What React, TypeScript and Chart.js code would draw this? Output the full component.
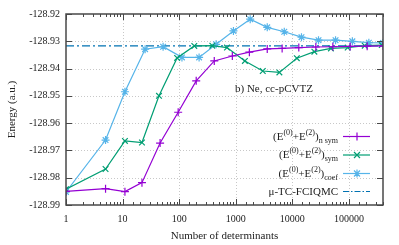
import React, { useEffect, useRef } from "react";
import { Chart, registerables } from "chart.js";

Chart.register(...registerables);

const nsymX = [1, 5, 11, 22, 46, 96, 200, 417, 870, 1740, 3600, 6600, 13000, 26000, 52000, 105000, 210000, 400000];
const nsymY = [-128.985, -128.9840, -128.9851, -128.9818, -128.9673, -128.956, -128.9445, -128.9372, -128.9354, -128.934, -128.9328, -128.9326, -128.9323, -128.9321, -128.932, -128.9319, -128.9318, -128.9317];

const symX = [1, 5, 11, 22, 44, 92, 185, 385, 700, 1450, 3000, 5900, 12000, 24500, 48000, 95000, 190000, 380000];
const symY = [-128.9842, -128.9768, -128.9665, -128.9671, -128.95, -128.9361, -128.9317, -128.9316, -128.9323, -128.9372, -128.9409, -128.9414, -128.9362, -128.9338, -128.9326, -128.9323, -128.9316, -128.9314];

const coefX = [1, 5, 11, 25, 52, 112, 225, 450, 910, 1800, 3600, 7200, 14500, 29000, 58000, 115000, 225000, 400000];
const coefY = [-128.9852, -128.9662, -128.9485, -128.9329, -128.932, -128.9359, -128.9359, -128.9311, -128.9262, -128.9219, -128.9249, -128.9265, -128.9285, -128.9296, -128.9296, -128.93, -128.9305, -128.9306];

const refX = [1, 400000];
const refY = [-128.9317, -128.9317];

const xTickLabels = ["1", "10", "100", "1000", "10000", "100000"];
const yMin = -128.99;
const yMax = -128.92;
const yStep = 0.01;

const COLORS = { nsym: "#9400d3", sym: "#009e73", coef: "#56b4e9", ref: "#0072b2" };
const FONT = '"Liberation Serif", "Times New Roman", serif';

const zip = (xs: number[], ys: number[]) => xs.map((x, i) => ({ x, y: ys[i] }));
const isPow10 = (v: number) => Math.abs(Math.log10(v) - Math.round(Math.log10(v))) < 1e-9;

function drawMarker(ctx: CanvasRenderingContext2D, kind: string, x: number, y: number, r: number) {
  ctx.beginPath();
  if (kind === "plus" || kind === "star") {
    ctx.moveTo(x - r, y); ctx.lineTo(x + r, y);
    ctx.moveTo(x, y - r); ctx.lineTo(x, y + r);
  }
  if (kind === "x" || kind === "star") {
    const d = r * 0.75;
    ctx.moveTo(x - d, y - d); ctx.lineTo(x + d, y + d);
    ctx.moveTo(x - d, y + d); ctx.lineTo(x + d, y - d);
  }
  ctx.stroke();
}

const framePlugin = {
  id: "frame",
  beforeDatasetsDraw(chart: any) {
    const { ctx, chartArea: a, scales } = chart;
    ctx.save();
    ctx.strokeStyle = "#c8c8c8";
    ctx.lineWidth = 1;
    ctx.setLineDash([1, 2]);
    xTickLabels.forEach((t) => {
      const v = Number(t);
      if (v <= 1) return;
      const px = Math.round(scales.x.getPixelForValue(v)) + 0.5;
      ctx.beginPath(); ctx.moveTo(px, a.top); ctx.lineTo(px, a.bottom); ctx.stroke();
    });
    for (let v = yMin + yStep; v < yMax - 1e-9; v += yStep) {
      const py = Math.round(scales.y.getPixelForValue(v)) + 0.5;
      ctx.beginPath(); ctx.moveTo(a.left, py); ctx.lineTo(a.right, py); ctx.stroke();
    }
    ctx.restore();
  },
  afterDraw(chart: any) {
    const { ctx, chartArea: a, scales } = chart;
    ctx.save();
    ctx.strokeStyle = "#484848";
    ctx.lineWidth = 1;
    scales.x.ticks.forEach((t: any) => {
      const v = t.value;
      const px = Math.round(scales.x.getPixelForValue(v)) + 0.5;
      const len = isPow10(v) ? 6 : 3;
      ctx.beginPath();
      ctx.moveTo(px, a.bottom); ctx.lineTo(px, a.bottom - len);
      ctx.moveTo(px, a.top); ctx.lineTo(px, a.top + len);
      ctx.stroke();
    });
    for (let v = yMin; v <= yMax + 1e-9; v += yStep) {
      const py = Math.round(scales.y.getPixelForValue(v)) + 0.5;
      ctx.beginPath();
      ctx.moveTo(a.left, py); ctx.lineTo(a.left + 6, py);
      ctx.moveTo(a.right, py); ctx.lineTo(a.right - 6, py);
      ctx.stroke();
    }
    ctx.lineWidth = 1.5;
    ctx.strokeRect(a.left, a.top, a.right - a.left, a.bottom - a.top);

    ctx.fillStyle = "#222";
    ctx.font = `11px ${FONT}`;
    ctx.textBaseline = "alphabetic";
    ctx.textAlign = "left";
    ctx.fillText("b) Ne, cc-pCVTZ", 235, 92);

    const rows = [
      { sub: "n sym", color: COLORS.nsym, marker: "plus", dash: [] as number[] },
      { sub: "sym", color: COLORS.sym, marker: "x", dash: [] as number[] },
      { sub: "coef", color: COLORS.coef, marker: "star", dash: [] as number[] },
      { sub: null as any, color: COLORS.ref, marker: "", dash: [6, 2, 1.5, 2] },
    ];
    const rowY = [136, 154.5, 173, 191];
    const textRight = 338;
    rows.forEach((r, i) => {
      const y = rowY[i];
      const base = y + 3.5;
      const segs: { t: string; size: number; dy: number }[] = r.sub
        ? [
            { t: "(E", size: 11, dy: 0 },
            { t: "(0)", size: 8, dy: -5 },
            { t: "+E", size: 11, dy: 0 },
            { t: "(2)", size: 8, dy: -5 },
            { t: ")", size: 11, dy: 0 },
            { t: r.sub, size: 8, dy: 3 },
          ]
        : [{ t: "\u03bc-TC-FCIQMC", size: 11, dy: 0 }];
      let total = 0;
      segs.forEach((s) => { ctx.font = `${s.size}px ${FONT}`; total += ctx.measureText(s.t).width; });
      let x = textRight - total;
      ctx.fillStyle = "#222";
      segs.forEach((s) => {
        ctx.font = `${s.size}px ${FONT}`;
        ctx.fillText(s.t, x, base + s.dy);
        x += ctx.measureText(s.t).width;
      });
      ctx.strokeStyle = r.color;
      ctx.lineWidth = 1.2;
      ctx.setLineDash(r.dash);
      ctx.beginPath(); ctx.moveTo(343, y + 0.5); ctx.lineTo(370, y + 0.5); ctx.stroke();
      ctx.setLineDash([]);
      if (r.marker) drawMarker(ctx, r.marker, 357, y + 0.5, 4);
    });
    ctx.restore();
  },
};

export default function App() {
  const ref = useRef<HTMLCanvasElement>(null);
  useEffect(() => {
    document.body.style.margin = "0";
    const canvas = ref.current!;
    const ds = (label: string, xs: number[], ys: number[], color: string, style: any, extra: any = {}) => ({
      label,
      data: zip(xs, ys),
      borderColor: color,
      backgroundColor: color,
      borderWidth: 1.2,
      pointStyle: style,
      pointRadius: 4,
      pointBorderWidth: 1.2,
      pointBorderColor: color,
      tension: 0,
      ...extra,
    });
    const chart = new Chart(canvas, {
      type: "line",
      data: {
        datasets: [
          ds("nsym", nsymX, nsymY, COLORS.nsym, "cross"),
          ds("sym", symX, symY, COLORS.sym, "crossRot"),
          ds("coef", coefX, coefY, COLORS.coef, "star"),
          ds("ref", refX, refY, COLORS.ref, "line", { pointRadius: 0, borderDash: [8, 3, 2, 3] }),
        ],
      },
      options: {
        responsive: false,
        animation: false,
        layout: { padding: { top: 14, right: 16, left: 0, bottom: 0 } },
        plugins: { legend: { display: false }, tooltip: { enabled: false } },
        scales: {
          x: {
            type: "logarithmic",
            min: 1,
            max: 400000,
            grid: { display: false, drawTicks: false },
            border: { display: false },
            ticks: {
              autoSkip: false,
              maxRotation: 0,
              padding: 8,
              color: "#222",
              font: { family: FONT, size: 10 },
              callback: (v: any) => {
                const s = String(Number(v));
                return xTickLabels.includes(s) ? s : "";
              },
            },
            title: { display: true, text: "Number of determinants", color: "#222", font: { family: FONT, size: 11 }, padding: { top: 0, bottom: 2 } },
            afterFit: (s: any) => { s.height = 40; },
          },
          y: {
            min: yMin,
            max: yMax,
            grid: { display: false, drawTicks: false },
            border: { display: false },
            ticks: {
              stepSize: yStep,
              padding: 6,
              color: "#222",
              font: { family: FONT, size: 10 },
              callback: (v: any) => Number(v).toFixed(2),
            },
            title: { display: true, text: "Energy (a.u.)", color: "#222", font: { family: FONT, size: 11 }, padding: { top: 6, bottom: 0 } },
            afterFit: (s: any) => { s.width = 66; },
          },
        },
      },
      plugins: [framePlugin],
    } as any);
    return () => chart.destroy();
  }, []);
  return (
    <div style={{ width: 399, height: 245 }}>
      <canvas ref={ref} width={399} height={245} />
    </div>
  );
}
